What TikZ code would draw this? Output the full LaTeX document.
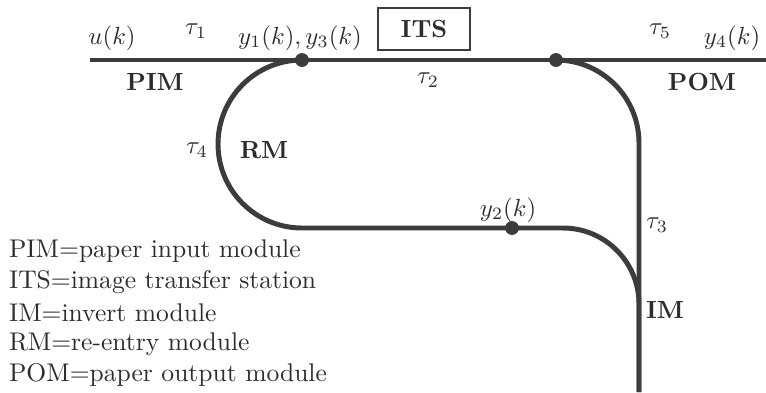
\documentclass[tikz,border=0pt]{standalone}
\definecolor{pathgray}{RGB}{60,60,60}
\definecolor{txtgray}{RGB}{45,45,45}
\tikzset{jnode/.style = {shape = circle,
                         fill = pathgray,
                         inner sep=0pt,
                         minimum size = 5.6pt},
         plabel/.style = {text = txtgray,
                          inner sep=1pt}}

\begin{document}
\begin{tikzpicture}[x=0.403pt, y=0.403pt,
                    paper/.style = {draw = pathgray,
                                    line width = 2pt}]
		\useasboundingbox (0,0) rectangle (766,-392);
		% junctions
		\node[jnode] (1) at (302,-60) {};
		\node[jnode] (2) at (512,-228) {};
		\node[jnode] (3) at (556,-60) {};
		\coordinate (in) at (90,-60);
		\coordinate (out) at (766,-60);
		\coordinate (imend) at (639,-392);
		% paper path
		\path[paper] (in) -- (1.center) -- (3.center) -- (out);
		\path[paper] (1.center) arc[start angle=90, end angle=270, radius=84]
		     -- (2.center) -- ++(51,0) arc[start angle=90, end angle=0, radius=76]
		     -- (imend);
		\path[paper] (3.center) arc[start angle=90, end angle=0, radius=83]
		     -- (imend);
		% station
		\node[draw=pathgray, thick, minimum width=92*0.403pt, minimum height=42*0.403pt,
		      text=txtgray] (its) at (424,-29) {\textbf{ITS}};
		% labels
		\node[plabel] (u) at (112,-38) {$u(k)$};
		\node[plabel] (t1) at (196,-31) {$\tau_1$};
		\node[plabel] (y13) at (300,-38) {$y_1(k), y_3(k)$};
		\node[plabel] (t2) at (428,-80) {$\tau_2$};
		\node[plabel] (t5) at (660,-31) {$\tau_5$};
		\node[plabel] (y4) at (732,-38) {$y_4(k)$};
		\node[plabel] (pim) at (155,-82) {\textbf{PIM}};
		\node[plabel] (pom) at (702,-82) {\textbf{POM}};
		\node[plabel] (t4) at (197,-150) {$\tau_4$};
		\node[plabel] (rm) at (264,-150) {\textbf{RM}};
		\node[plabel] (y2) at (508,-210) {$y_2(k)$};
		\node[plabel] (t3) at (657,-225) {$\tau_3$};
		\node[plabel] (im) at (665,-310) {\textbf{IM}};
		% legend
		\node[plabel, anchor=west, scale=1.03] (l1) at (6,-251) {PIM=paper input module};
		\node[plabel, anchor=west, scale=1.03] (l2) at (6,-282) {ITS=image transfer station};
		\node[plabel, anchor=west, scale=1.03] (l3) at (6,-313) {IM=invert module};
		\node[plabel, anchor=west, scale=1.03] (l4) at (6,-344) {RM=re-entry module};
		\node[plabel, anchor=west, scale=1.03] (l5) at (6,-375) {POM=paper output module};
	\end{tikzpicture}
\end{document}
